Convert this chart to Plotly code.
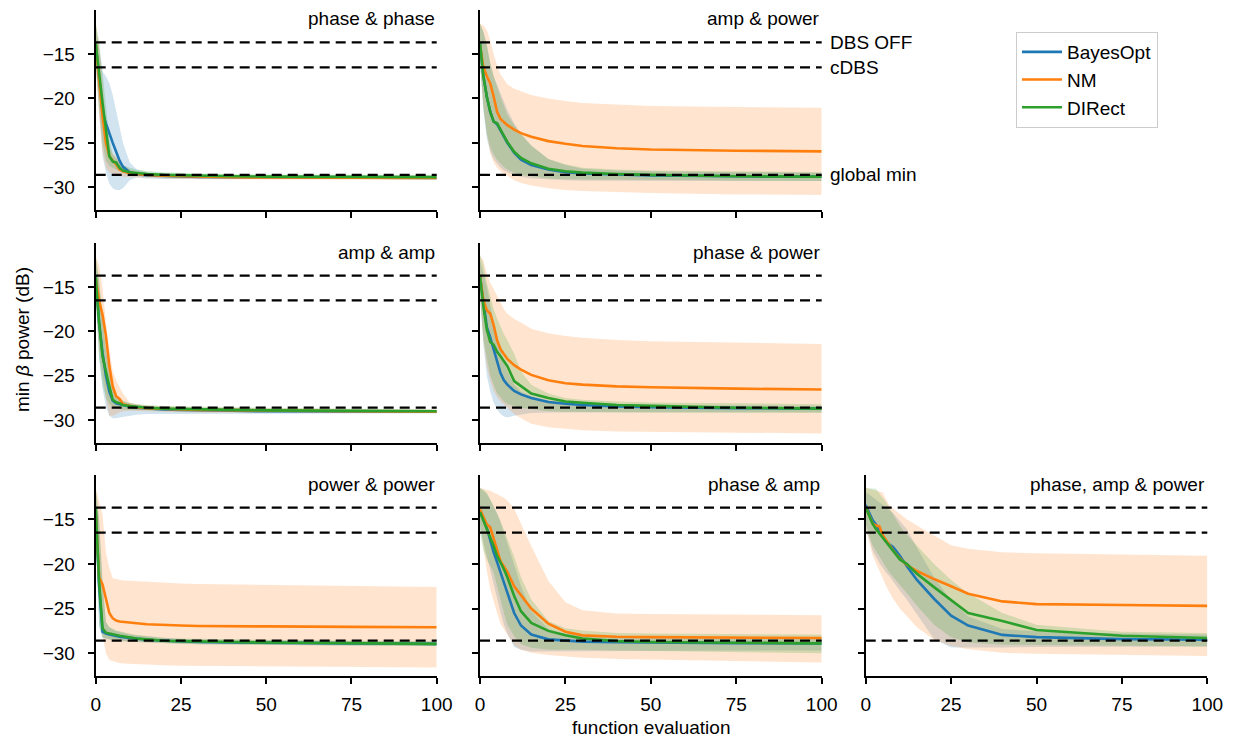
import plotly.graph_objects as go

# ---------------- data ----------------
X = [0, 1, 2, 3, 4, 5, 6, 7, 8, 10, 12, 15, 20, 25, 30, 40, 50, 75, 100]
METHODS = ["BayesOpt", "NM", "DIRect"]
TITLES = ["phase & phase", "amp & power", "amp & amp", "phase & power",
          "power & power", "phase & amp", "phase, amp & power"]
DBS_OFF = -13.7
CDBS = -16.5
GLOBAL_MIN = -28.6
X_TICKS = [0, 25, 50, 75, 100]
Y_TICKS = [-15, -20, -25, -30]

# panel 1: phase & phase
P1_MEAN = {
    "BayesOpt": [-13.8, -18, -21.5, -22.8, -24, -25, -26, -27, -27.7, -28.3, -28.5, -28.65, -28.72, -28.78, -28.82, -28.86, -28.88, -28.92, -28.95],
    "NM": [-13.8, -18, -22, -25, -26.5, -27, -27.4, -28, -28.2, -28.4, -28.5, -28.6, -28.7, -28.75, -28.8, -28.85, -28.9, -28.92, -28.95],
    "DIRect": [-13.8, -17.5, -20.5, -23.5, -26.5, -27.1, -27.2, -27.8, -28.1, -28.3, -28.4, -28.5, -28.6, -28.65, -28.7, -28.75, -28.8, -28.82, -28.85],
}
P1_LO = {
    "BayesOpt": [-16, -21.5, -26.5, -28.3, -29.6, -30.1, -30.3, -30.3, -30.1, -29.2, -28.9, -29.0, -29.05, -29.1, -29.1, -29.1, -29.1, -29.1, -29.1],
    "NM": [-16, -22, -26, -27.8, -28.3, -28.5, -28.6, -28.7, -28.8, -28.85, -28.9, -28.95, -29.0, -29.05, -29.1, -29.1, -29.12, -29.15, -29.15],
    "DIRect": [-16, -21, -25, -27, -27.6, -27.8, -28.0, -28.2, -28.4, -28.6, -28.7, -28.75, -28.8, -28.85, -28.9, -28.95, -29.0, -29.0, -29.0],
}
P1_HI = {
    "BayesOpt": [-11.8, -14.5, -17.0, -17.5, -18.3, -19.6, -21.5, -23.5, -25.0, -27.2, -28.0, -28.3, -28.45, -28.5, -28.55, -28.6, -28.62, -28.65, -28.7],
    "NM": [-11.5, -14, -18, -23, -25.5, -26.2, -26.6, -27.0, -27.5, -28.0, -28.2, -28.35, -28.5, -28.55, -28.6, -28.65, -28.7, -28.72, -28.75],
    "DIRect": [-11.5, -13.5, -17, -21, -24.5, -26.3, -26.8, -27.2, -27.5, -27.8, -28.0, -28.15, -28.3, -28.4, -28.45, -28.5, -28.55, -28.58, -28.6],
}

# panel 2: amp & power
P2_MEAN = {
    "BayesOpt": [-13.8, -17.5, -19.8, -21.5, -22.6, -22.9, -23.6, -24.3, -25.0, -26.1, -26.9, -27.5, -28.0, -28.3, -28.45, -28.55, -28.65, -28.75, -28.8],
    "NM": [-14, -16.5, -17.5, -18.3, -19.8, -21.5, -22.3, -22.7, -23.0, -23.5, -23.9, -24.3, -24.8, -25.1, -25.35, -25.6, -25.75, -25.88, -25.95],
    "DIRect": [-13.8, -17.5, -19.8, -21.5, -22.6, -22.8, -23.5, -24.2, -24.9, -26.0, -26.7, -27.3, -27.9, -28.2, -28.35, -28.5, -28.6, -28.75, -28.8],
}
P2_LO = {
    "BayesOpt": [-16, -21.5, -24.5, -26, -26.8, -27.3, -27.8, -28.1, -28.3, -28.6, -28.8, -29.0, -29.1, -29.2, -29.25, -29.3, -29.3, -29.3, -29.3],
    "NM": [-16, -21, -24, -26.2, -27.2, -27.8, -28.2, -28.5, -28.7, -29.2, -29.5, -29.8, -30.1, -30.3, -30.4, -30.55, -30.65, -30.8, -30.85],
    "DIRect": [-16, -21, -24, -25.5, -26.3, -26.9, -27.3, -27.7, -28.0, -28.4, -28.6, -28.8, -29.0, -29.1, -29.15, -29.2, -29.2, -29.25, -29.3],
}
P2_HI = {
    "BayesOpt": [-11.6, -12.5, -14, -16, -17.5, -18.5, -19.5, -20.5, -21.3, -22.8, -24.0, -25.3, -26.8, -27.5, -27.9, -28.1, -28.2, -28.3, -28.35],
    "NM": [-11.6, -11.8, -12.3, -13.5, -15.0, -16.3, -17.3, -17.9, -18.4, -18.9, -19.2, -19.6, -20.0, -20.3, -20.5, -20.7, -20.85, -20.95, -21.05],
    "DIRect": [-11.6, -12.5, -14, -16, -17.5, -18.8, -19.8, -20.8, -21.8, -23.0, -24.0, -25.3, -26.8, -27.4, -27.8, -28.0, -28.1, -28.2, -28.3],
}

# panel 3: amp & amp
P3_MEAN = {
    "BayesOpt": [-13.8, -19, -22.4, -25, -26.8, -27.8, -28.1, -28.2, -28.3, -28.5, -28.6, -28.7, -28.8, -28.85, -28.9, -28.95, -29.0, -29.0, -29.05],
    "NM": [-14, -16.5, -18.1, -20.5, -23.9, -26.2, -27.3, -27.6, -28.2, -28.4, -28.55, -28.65, -28.75, -28.8, -28.85, -28.9, -28.95, -29.0, -29.05],
    "DIRect": [-13.8, -19, -22.8, -24.7, -26.2, -27.7, -28.0, -28.1, -28.3, -28.4, -28.5, -28.6, -28.7, -28.75, -28.8, -28.85, -28.9, -28.95, -29.0],
}
P3_LO = {
    "BayesOpt": [-16, -23, -26.5, -28.5, -29.5, -29.8, -29.8, -29.7, -29.6, -29.5, -29.4, -29.3, -29.25, -29.25, -29.25, -29.25, -29.25, -29.25, -29.25],
    "NM": [-16, -22, -25, -27.5, -29.5, -29.5, -29.3, -29.1, -29.0, -28.95, -28.95, -29.0, -29.05, -29.1, -29.15, -29.2, -29.2, -29.2, -29.2],
    "DIRect": [-16, -23, -26, -27.5, -28.2, -28.5, -28.6, -28.7, -28.8, -28.8, -28.85, -28.9, -28.95, -29.0, -29.05, -29.1, -29.1, -29.15, -29.2],
}
P3_HI = {
    "BayesOpt": [-11.8, -14.5, -18.5, -22, -24.5, -26.3, -27.2, -27.6, -27.9, -28.1, -28.3, -28.45, -28.55, -28.6, -28.65, -28.7, -28.75, -28.8, -28.85],
    "NM": [-11.5, -12.5, -15, -19, -22, -24.5, -25.5, -26.2, -27.0, -28.0, -28.2, -28.35, -28.45, -28.5, -28.55, -28.6, -28.7, -28.75, -28.8],
    "DIRect": [-11.5, -14, -18, -22, -24.5, -26.5, -27.2, -27.5, -27.8, -28.1, -28.2, -28.3, -28.4, -28.45, -28.5, -28.55, -28.6, -28.7, -28.8],
}

# panel 4: phase & power
P4_MEAN = {
    "BayesOpt": [-13.8, -17, -19.5, -20.7, -22, -23.5, -24.7, -25.5, -26.0, -26.7, -27.1, -27.5, -27.95, -28.15, -28.3, -28.45, -28.55, -28.65, -28.7],
    "NM": [-13.8, -16.5, -17.6, -18.0, -19.3, -21.0, -22.0, -22.6, -23.1, -23.8, -24.3, -24.9, -25.5, -25.85, -26.0, -26.2, -26.3, -26.45, -26.55],
    "DIRect": [-13.8, -17.2, -19.8, -21.2, -21.5, -22.3, -22.8, -23.3, -23.9, -25.6, -26.2, -27.0, -27.5, -27.9, -28.05, -28.3, -28.4, -28.6, -28.7],
}
P4_LO = {
    "BayesOpt": [-16, -21.5, -25, -26.8, -28, -28.8, -29.3, -29.6, -29.7, -29.5, -29.35, -29.2, -29.15, -29.1, -29.1, -29.1, -29.1, -29.1, -29.1],
    "NM": [-16, -21, -24, -25.6, -26.7, -27.4, -27.9, -28.3, -28.6, -29.3, -29.8, -30.4, -30.8, -31.0, -31.15, -31.3, -31.35, -31.45, -31.5],
    "DIRect": [-16, -21, -23, -25, -26, -27, -27.5, -27.9, -28.2, -28.4, -28.6, -28.8, -29.0, -29.05, -29.1, -29.1, -29.15, -29.2, -29.2],
}
P4_HI = {
    "BayesOpt": [-12, -13.5, -15, -17, -19, -20.5, -22, -23.3, -24.5, -26.0, -26.8, -27.3, -27.8, -28.0, -28.1, -28.2, -28.25, -28.35, -28.4],
    "NM": [-11.5, -12, -13.5, -14.5, -15.2, -16.0, -16.8, -17.5, -18.0, -18.6, -19.0, -19.7, -20.2, -20.5, -20.7, -20.95, -21.1, -21.25, -21.4],
    "DIRect": [-11.3, -12.5, -14.5, -16, -17.5, -18.5, -19.5, -20.3, -21.0, -22.5, -24.5, -26.0, -27.0, -27.5, -27.7, -27.9, -28.0, -28.1, -28.2],
}

# panel 5: power & power
P5_MEAN = {
    "BayesOpt": [-13.8, -22.5, -27.6, -27.8, -27.9, -28.0, -28.1, -28.15, -28.2, -28.3, -28.4, -28.5, -28.6, -28.68, -28.75, -28.8, -28.85, -28.9, -28.95],
    "NM": [-14, -21.5, -22.3, -23.8, -25.5, -26.1, -26.35, -26.45, -26.5, -26.6, -26.65, -26.75, -26.85, -26.9, -26.95, -27.0, -27.0, -27.05, -27.1],
    "DIRect": [-13.8, -22, -27.2, -27.7, -27.8, -27.9, -28.0, -28.05, -28.1, -28.25, -28.35, -28.45, -28.6, -28.65, -28.7, -28.75, -28.8, -28.9, -28.95],
}
P5_LO = {
    "BayesOpt": [-16, -27, -28.3, -28.4, -28.5, -28.55, -28.6, -28.65, -28.7, -28.75, -28.8, -28.85, -28.9, -28.95, -29.0, -29.05, -29.1, -29.15, -29.2],
    "NM": [-16, -24, -28, -30, -30.75, -30.9, -31.0, -31.1, -31.15, -31.2, -31.25, -31.3, -31.35, -31.4, -31.4, -31.45, -31.5, -31.55, -31.6],
    "DIRect": [-16, -27, -28.2, -28.35, -28.45, -28.5, -28.55, -28.6, -28.65, -28.7, -28.75, -28.8, -28.9, -28.95, -29.0, -29.05, -29.1, -29.15, -29.2],
}
P5_HI = {
    "BayesOpt": [-11.5, -15, -22, -26.5, -27.1, -27.3, -27.5, -27.6, -27.7, -27.9, -28.0, -28.1, -28.3, -28.4, -28.45, -28.5, -28.55, -28.65, -28.7],
    "NM": [-11.5, -13, -14.5, -18.7, -20.5, -21.6, -21.7, -21.8, -21.85, -21.9, -21.95, -22.0, -22.1, -22.2, -22.25, -22.3, -22.4, -22.5, -22.6],
    "DIRect": [-11.5, -15, -22, -26.5, -27.1, -27.3, -27.45, -27.55, -27.65, -27.8, -27.95, -28.1, -28.3, -28.35, -28.4, -28.45, -28.5, -28.6, -28.7],
}

# panel 6: phase & amp
P6_MEAN = {
    "BayesOpt": [-14.2, -15.0, -16.0, -17.4, -18.7, -19.8, -20.9, -22.2, -23.3, -25.5, -26.9, -27.9, -28.45, -28.6, -28.7, -28.78, -28.82, -28.87, -28.9],
    "NM": [-13.9, -14.8, -15.6, -15.9, -17.2, -18.7, -19.7, -20.3, -20.9, -22.5, -23.5, -25.0, -26.7, -27.6, -28.0, -28.15, -28.2, -28.25, -28.3],
    "DIRect": [-14.2, -15.1, -16.1, -17.1, -18.0, -19.1, -19.8, -20.6, -21.5, -23.6, -25.3, -26.6, -27.5, -28.0, -28.35, -28.65, -28.75, -28.85, -28.9],
}
P6_LO = {
    "BayesOpt": [-16, -17.5, -19, -20.7, -22.3, -23.8, -25.4, -26.8, -27.8, -29.3, -29.6, -29.8, -29.8, -29.8, -29.8, -29.75, -29.75, -29.7, -29.7],
    "NM": [-15.5, -18, -20.8, -22.8, -24.2, -25.5, -26.7, -27.3, -27.9, -29.1, -29.6, -29.95, -30.2, -30.35, -30.5, -30.65, -30.75, -30.9, -31.05],
    "DIRect": [-16.5, -18.5, -19.5, -20.2, -21.0, -22.5, -24, -25.5, -26.8, -28.1, -29.0, -29.4, -29.6, -29.6, -29.6, -29.7, -29.8, -29.9, -30.0],
}
P6_HI = {
    "BayesOpt": [-11.5, -11.8, -12.2, -12.8, -13.5, -14.3, -15.3, -16.5, -17.6, -20, -22.5, -25.3, -27.3, -27.8, -28.0, -28.1, -28.15, -28.2, -28.2],
    "NM": [-11.5, -11.6, -11.7, -11.8, -12.0, -12.2, -12.4, -12.6, -12.9, -13.8, -15.5, -18, -21.9, -24.3, -25.2, -25.55, -25.6, -25.7, -25.75],
    "DIRect": [-11.5, -11.7, -12.0, -12.8, -13.6, -14.3, -15.2, -16.2, -17.2, -19.2, -21.5, -24.0, -26.4, -27.2, -27.45, -27.75, -27.8, -27.85, -27.9],
}

# panel 7: phase, amp & power
P7_MEAN = {
    "BayesOpt": [-13.4, -14.2, -15.1, -15.6, -16.2, -16.9, -17.5, -17.85, -18.1, -19.1, -20.25, -21.8, -23.9, -25.8, -26.9, -27.95, -28.2, -28.42, -28.5],
    "NM": [-13.6, -14.6, -15.5, -15.7, -15.8, -16.8, -17.4, -17.9, -18.5, -19.4, -20.1, -20.8, -21.7, -22.5, -23.35, -24.2, -24.5, -24.6, -24.7],
    "DIRect": [-13.7, -14.6, -15.5, -16.1, -16.6, -17.1, -17.6, -18.1, -18.6, -19.5, -20.0, -21.1, -22.6, -24.1, -25.5, -26.4, -27.4, -28.05, -28.3],
}
P7_LO = {
    "BayesOpt": [-16, -17.2, -18.5, -19.2, -19.9, -20.5, -21.0, -21.4, -21.9, -23.0, -24.0, -25.6, -28.4, -29.35, -29.4, -29.35, -29.3, -29.25, -29.25],
    "NM": [-16, -17.6, -19.0, -19.9, -20.8, -21.6, -22.5, -23.2, -23.9, -25.0, -25.9, -27.1, -28.5, -29.2, -29.55, -29.95, -30.05, -30.2, -30.3],
    "DIRect": [-15.5, -16.8, -17.9, -18.5, -19.1, -19.8, -20.4, -21.0, -21.5, -22.4, -23.25, -24.7, -26.8, -28.2, -28.8, -29.05, -29.1, -29.2, -29.25],
}
P7_HI = {
    "BayesOpt": [-12, -12.2, -12.5, -12.8, -13.1, -13.4, -13.7, -13.9, -14.3, -15.2, -16.1, -18.2, -21.5, -24.1, -25.9, -27.3, -27.55, -27.8, -27.9],
    "NM": [-11.5, -11.6, -11.7, -11.8, -11.9, -12.0, -12.8, -13.5, -13.8, -14.4, -15.0, -15.7, -16.8, -17.9, -18.3, -18.7, -18.8, -18.95, -19.1],
    "DIRect": [-11.5, -11.5, -11.55, -11.6, -12.1, -12.6, -13.1, -13.8, -14.4, -15.75, -16.7, -17.9, -20.0, -21.8, -23.3, -25.5, -26.8, -27.6, -27.75],
}

PANELS = [
    (1, 1, P1_MEAN, P1_LO, P1_HI),
    (1, 2, P2_MEAN, P2_LO, P2_HI),
    (2, 1, P3_MEAN, P3_LO, P3_HI),
    (2, 2, P4_MEAN, P4_LO, P4_HI),
    (3, 1, P5_MEAN, P5_LO, P5_HI),
    (3, 2, P6_MEAN, P6_LO, P6_HI),
    (3, 3, P7_MEAN, P7_LO, P7_HI),
]

# ---------------- style ----------------
COLORS = {"BayesOpt": "#1f77b4", "NM": "#ff7f0e", "DIRect": "#2ca02c"}
FILLS = {"BayesOpt": "rgba(31,119,180,0.2)", "NM": "rgba(255,127,14,0.2)",
         "DIRect": "rgba(44,160,44,0.2)"}
FONT = "Arial, Liberation Sans, Helvetica, sans-serif"
FS = 19
W, H = 1240, 738
COL_DOM = {1: [95.7 / W, 436.7 / W], 2: [480 / W, 821.7 / W], 3: [865.7 / W, 1207.3 / W]}
ROW_DOM = {1: [1 - 210 / H, 1 - 10 / H], 2: [1 - 442.7 / H, 1 - 243.3 / H], 3: [1 - 676 / H, 1 - 475 / H]}
Y_RANGE = [-32.55, -10.05]

fig = go.Figure()
layout = {}
shapes = []
annotations = []

for i, (row, col, mean, lo, hi) in enumerate(PANELS, start=1):
    s = "" if i == 1 else str(i)
    xa, ya = "x" + s, "y" + s
    for m in METHODS:
        fig.add_trace(go.Scatter(
            x=X + X[::-1], y=hi[m] + lo[m][::-1], fill="toself",
            fillcolor=FILLS[m], line=dict(width=0), mode="lines",
            hoverinfo="skip", showlegend=False, xaxis=xa, yaxis=ya))
    for m in METHODS:
        fig.add_trace(go.Scatter(
            x=X, y=mean[m], mode="lines", name=m, legendgroup=m,
            line=dict(color=COLORS[m], width=2.6),
            showlegend=(i == 1), xaxis=xa, yaxis=ya))
    common = dict(showline=True, linecolor="black", linewidth=2,
                  ticks="outside", ticklen=6, tickwidth=2, tickcolor="black",
                  showgrid=False, zeroline=False, automargin=False,
                  tickfont=dict(family=FONT, size=FS, color="black"))
    layout["xaxis" + s] = dict(domain=COL_DOM[col], range=[0, 100], anchor=ya,
                               tickvals=X_TICKS, showticklabels=(row == 3),
                               ticklabelstandoff=4, **common)
    layout["yaxis" + s] = dict(domain=ROW_DOM[row], range=Y_RANGE, anchor=xa,
                               tickvals=Y_TICKS, showticklabels=(col == 1),
                               ticklabelstandoff=9, **common)
    for yv in (DBS_OFF, CDBS, GLOBAL_MIN):
        shapes.append(dict(type="line", xref=xa + " domain", x0=0, x1=1,
                           yref=ya, y0=yv, y1=yv, layer="above",
                           line=dict(color="black", width=2.3, dash="10px,6px")))
    annotations.append(dict(text=TITLES[i - 1], xref=xa + " domain", x=1,
                            xanchor="right", yref=ya + " domain", y=0.955,
                            yanchor="middle", showarrow=False,
                            font=dict(family=FONT, size=FS, color="black")))

for label, yv in (("DBS OFF", DBS_OFF), ("cDBS", CDBS), ("global min", GLOBAL_MIN)):
    annotations.append(dict(text=label, xref="x2 domain", x=1.018, xanchor="left",
                            yref="y2", y=yv, yanchor="middle", showarrow=False,
                            font=dict(family=FONT, size=FS, color="black")))

annotations.append(dict(text="min <i>β</i> power (dB)", xref="paper", x=22 / W,
                        yref="paper", y=1 - 340 / H, textangle=-90, showarrow=False,
                        xanchor="center", yanchor="middle",
                        font=dict(family=FONT, size=FS, color="black")))
annotations.append(dict(text="function evaluation", xref="paper", x=651 / W,
                        yref="paper", y=1 - 727 / H, showarrow=False,
                        xanchor="center", yanchor="middle",
                        font=dict(family=FONT, size=FS, color="black")))

fig.update_layout(
    template="none",
    width=W, height=H, autosize=False,
    margin=dict(l=0, r=0, t=0, b=0, pad=0, autoexpand=False),
    paper_bgcolor="white", plot_bgcolor="white",
    font=dict(family=FONT, size=FS, color="black"),
    shapes=shapes, annotations=annotations,
    legend=dict(x=1016 / W, y=1 - 32 / H, xanchor="left", yanchor="top",
                bgcolor="white", bordercolor="#cccccc", borderwidth=1,
                font=dict(family=FONT, size=FS, color="black"),
                tracegroupgap=0, itemwidth=40),
    showlegend=True,
    **layout,
)

fig.write_html("out.html")
